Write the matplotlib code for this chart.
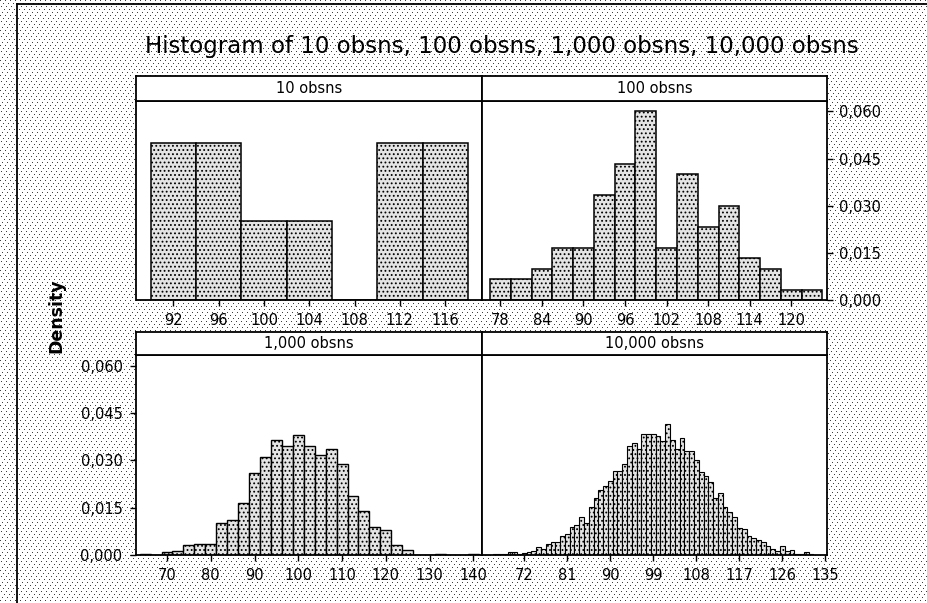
import numpy as np
import matplotlib
matplotlib.use("Agg")
import matplotlib.pyplot as plt
from matplotlib.lines import Line2D

W, H, DPI = 928, 603, 100

# ---- data: bin midpoints and counts per sample size ----
mid_10 = [92, 96, 100, 104, 108, 112, 116]
cnt_10 = [2, 2, 1, 1, 0, 2, 2]

mid_100 = [78, 81, 84, 87, 90, 93, 96, 99, 102, 105, 108, 111, 114, 117, 120, 123]
cnt_100 = [2, 2, 3, 5, 5, 10, 13, 18, 5, 12, 7, 9, 4, 3, 1, 1]

mid_1000 = [65, 67.5, 70, 72.5, 75, 77.5, 80, 82.5, 85, 87.5, 90, 92.5, 95, 97.5,
            100, 102.5, 105, 107.5, 110, 112.5, 115, 117.5, 120, 122.5, 125,
            127.5, 130, 132.5, 135, 137.5, 140]
cnt_1000 = [1, 0, 2, 3, 8, 9, 9, 25, 28, 41, 65, 78, 91, 86,
            95, 86, 79, 84, 72, 47, 35, 22, 20, 8, 4,
            0, 0, 1, 0, 0, 1]

mid_10000 = [66, 67, 68, 69, 70, 71, 72, 73, 74, 75, 76, 77, 78, 79, 80,
             81, 82, 83, 84, 85, 86, 87, 88, 89, 90, 91, 92, 93, 94, 95, 96,
             97, 98, 99, 100, 101, 102, 103, 104, 105, 106, 107, 108, 109, 110, 111, 112,
             113, 114, 115, 116, 117, 118, 119, 120, 121, 122, 123, 124, 125, 126,
             127, 128, 129, 130, 131, 132]
cnt_10000 = [3, 2, 3, 8, 8, 4, 5, 10, 14, 25, 20, 36, 41, 41, 60,
             67, 90, 96, 120, 103, 151, 180, 205, 220, 236, 265, 265, 287, 347, 356, 337,
             385, 385, 385, 377, 361, 416, 366, 337, 372, 331, 331, 300, 262, 249, 231, 180,
             196, 151, 137, 120, 85, 82, 60, 53, 48, 40, 30, 19, 12, 27,
             12, 16, 4, 4, 10, 4]

ticks_10 = [92, 96, 100, 104, 108, 112, 116]
ticks_100 = [78, 84, 90, 96, 102, 108, 114, 120]
ticks_1000 = [70, 80, 90, 100, 110, 120, 130, 140]
ticks_10000 = [72, 81, 90, 99, 108, 117, 126, 135]

y_ticks = [0.0, 0.015, 0.030, 0.045, 0.060]
y_labels = ["0,000", "0,015", "0,030", "0,045", "0,060"]

title = "Histogram of 10 obsns, 100 obsns, 1,000 obsns, 10,000 obsns"

plt.rcParams['font.family'] = ['DejaVu Sans']
plt.rcParams['hatch.linewidth'] = 0.8


def px_rect(x0, y0, x1, y1):
    """Pixel box (top-left origin) -> figure fraction rect."""
    return [x0 / W, 1 - y1 / H, (x1 - x0) / W, (y1 - y0) / H]


fig = plt.figure(figsize=(W / DPI, H / DPI), dpi=DPI)
fig.patch.set_facecolor('white')

# stippled page background
rr, cc = np.mgrid[0:H, 0:W]
dots = (rr % 3 == 0) & ((cc + (rr // 3) * 2) % 5 == 0)
tex = np.ones((H, W, 3))
tex[dots] = 0.25
fig.figimage(tex, xo=0, yo=0, zorder=-10)

# outer graph frame (left and top edges)
fig.add_artist(Line2D([16.5 / W, 16.5 / W], [0, 1 - 3.5 / H], color='black', lw=1.3,
                      transform=fig.transFigure))
fig.add_artist(Line2D([16.5 / W, 1], [1 - 3.5 / H, 1 - 3.5 / H], color='black', lw=1.3,
                      transform=fig.transFigure))

rows = {0: (76, 100.7, 300), 1: (331.5, 355, 555)}
cols = {0: (136.5, 482), 1: (482, 827)}

panels = [
    dict(label="10 obsns", mids=mid_10, counts=cnt_10, n=10, width=4,
         ticks=ticks_10, xlim=(88.75, 119.25), row=0, col=0, yside=None, elw=1.1),
    dict(label="100 obsns", mids=mid_100, counts=cnt_100, n=100, width=3,
         ticks=ticks_100, xlim=(75.35, 125.15), row=0, col=1, yside='right', elw=1.1),
    dict(label="1,000 obsns", mids=mid_1000, counts=cnt_1000, n=1000, width=2.5,
         ticks=ticks_1000, xlim=(63.03, 141.97), row=1, col=0, yside='left', elw=1.0),
    dict(label="10,000 obsns", mids=mid_10000, counts=cnt_10000, n=10000, width=1,
         ticks=ticks_10000, xlim=(63.16, 135.33), row=1, col=1, yside=None, elw=0.8),
]

for p in panels:
    st, top, bot = rows[p['row']]
    x0, x1 = cols[p['col']]

    ax = fig.add_axes(px_rect(x0, top, x1, bot))
    ax.set_facecolor('white')
    dens = np.array(p['counts'], dtype=float) / (p['n'] * p['width'])
    ax.bar(p['mids'], dens, width=p['width'], facecolor='#e4e4e4',
           edgecolor='black', linewidth=p['elw'], hatch='....', align='center')
    ax.set_xlim(*p['xlim'])
    ax.set_ylim(0, 0.0634)
    ax.set_xticks(p['ticks'])
    ax.set_xticklabels([str(t) for t in p['ticks']])
    ax.tick_params(axis='x', direction='out', length=4, width=1, pad=5.5,
                   labelsize=10.5)
    if p['yside'] is None:
        ax.set_yticks([])
    else:
        ax.set_yticks(y_ticks)
        ax.set_yticklabels(y_labels)
        if p['yside'] == 'right':
            ax.yaxis.tick_right()
            ax.tick_params(axis='y', direction='out', length=4, width=1, pad=4.5,
                           labelsize=10.5, left=False, labelleft=False,
                           right=True, labelright=True)
        else:
            ax.tick_params(axis='y', direction='out', length=4, width=1, pad=6,
                           labelsize=10.5)
    for s in ax.spines.values():
        s.set_linewidth(1.3)

    sax = fig.add_axes(px_rect(x0, st, x1, top))
    sax.set_facecolor('white')
    sax.set_xticks([])
    sax.set_yticks([])
    for s in sax.spines.values():
        s.set_linewidth(1.3)
    sax.text(0.5, 0.5, p['label'], ha='center', va='center', fontsize=10.5,
             transform=sax.transAxes)

fig.text(502 / W, 1 - 47 / H, title, ha='center', va='center', fontsize=16.5)
fig.text(56 / W, 1 - 316 / H, "Density", rotation=90, ha='center', va='center',
         fontsize=12.5, fontweight='bold')

fig.savefig("out.png", dpi=DPI)
